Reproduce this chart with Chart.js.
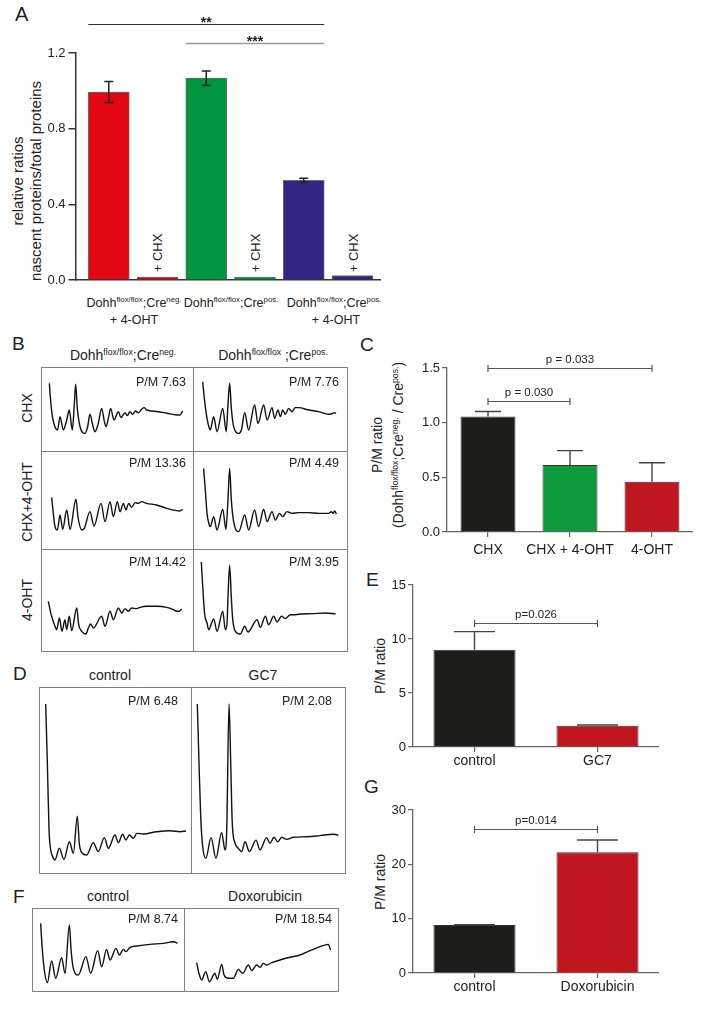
<!DOCTYPE html>
<html>
<head>
<meta charset="utf-8">
<script src="https://cdn.jsdelivr.net/npm/chart.js@4.4.1/dist/chart.umd.min.js"></script>
<style>
html,body{margin:0;padding:0;background:#fff;}
body{width:702px;height:1010px;position:relative;overflow:hidden;font-family:"Liberation Sans",Arial,Helvetica,sans-serif;}
.t{position:absolute;white-space:nowrap;color:#222;line-height:1;}
.c{transform:translate(-50%,-50%);}
.r{transform:translate(-100%,-50%);}
.rot{transform:translate(-50%,-50%) rotate(-90deg);text-align:center;}
.s{font-size:0.62em;vertical-align:0.6em;line-height:0;}
.L{position:absolute;font-size:19px;line-height:1;color:#222;}
canvas{position:absolute;}
.box{position:absolute;border:1px solid #808080;box-sizing:border-box;}
.vl{position:absolute;width:1px;background:#808080;}
.hl{position:absolute;height:1px;background:#808080;}
</style>
</head>
<body>
<script>
// ---------------- DATA ----------------
// Panel A
const categoriesA = ['Dohh flox/flox;Cre neg. + 4-OHT', '+ CHX', 'Dohh flox/flox;Cre pos.', '+ CHX', 'Dohh flox/flox;Cre pos. + 4-OHT', '+ CHX'];
const valuesA = [0.994, 0.017, 1.067, 0.017, 0.528, 0.025];
const errorsA = [0.056, 0, 0.038, 0, 0.011, 0];
const ticksA = [0, 0.4, 0.8, 1.2];
const sigA = [{a: 0, b: 4, y: 1.355, label: '**'}, {a: 2, b: 4, y: 1.254, label: '***'}];

// Panel C
const categoriesC = ['CHX', 'CHX + 4-OHT', '4-OHT'];
const valuesC = [1.056, 0.613, 0.459];
const errorsC = [0.046, 0.131, 0.175];
const ticksC = [0, 0.5, 1.0, 1.5];
const sigC = [{a: 0, b: 2, y: 1.5, label: 'p = 0.033'}, {a: 0, b: 1, y: 1.2, label: 'p = 0.030'}];

// Panel E
const categoriesE = ['control', 'GC7'];
const valuesE = [9.0, 1.97];
const errorsE = [1.68, 0.07];
const ticksE = [0, 5, 10, 15];
const sigE = [{a: 0, b: 1, y: 11.5, label: 'p=0.026'}];

// Panel G
const categoriesG = ['control', 'Doxorubicin'];
const valuesG = [8.82, 22.23];
const errorsG = [0.05, 2.26];
const ticksG = [0, 10, 20, 30];
const sigG = [{a: 0, b: 1, y: 26.5, label: 'p=0.014'}];

// Polysome profiles (x: gradient position %, y: absorbance %)
const profB1x = [5.5, 6.4, 7.7, 9.2, 10.9, 12.5, 14.7, 16.9, 18.6, 20.6, 21.9, 22.8, 23.9, 25.7, 28.9, 30.7, 32.2, 34.0, 35.5, 37.7, 39.9, 41.7, 42.8, 44.3, 45.8, 48.0, 50.9, 52.6, 55.3, 56.8, 58.6, 60.3, 62.1, 64.0, 66.2, 67.8, 69.5, 76.1, 82.7, 89.3, 91.4, 93.2];
const profB1y = [80.6, 58.7, 38.9, 28.9, 25.0, 40.9, 25.0, 36.9, 48.8, 25.0, 54.8, 79.4, 50.8, 28.9, 21.0, 28.9, 43.7, 31.0, 23.0, 33.0, 50.8, 34.9, 28.9, 38.9, 50.8, 36.9, 46.8, 39.7, 45.6, 42.1, 46.8, 43.7, 47.6, 45.6, 49.6, 51.6, 48.8, 47.0, 45.0, 42.9, 42.9, 47.6];

const profB2x = [6.3, 7.6, 9.1, 10.6, 11.2, 13.4, 15.6, 19.3, 21.6, 22.7, 23.8, 24.9, 26.4, 29.7, 31.4, 33.6, 36.1, 40.0, 42.2, 45.9, 48.1, 51.3, 53.0, 55.2, 56.7, 58.2, 60.0, 62.1, 64.3, 66.4, 68.6, 75.1, 81.6, 88.1, 90.3, 92.0, 92.9];
const profB2y = [82.5, 58.7, 38.9, 27.0, 25.0, 40.9, 23.0, 50.8, 23.0, 54.8, 80.6, 50.8, 29.0, 21.0, 25.0, 45.6, 25.0, 54.8, 32.9, 54.8, 36.9, 51.6, 38.9, 48.8, 40.9, 48.8, 43.7, 50.8, 46.8, 51.6, 51.6, 48.8, 46.8, 43.7, 44.4, 45.6, 44.8];

const profB3x = [7.0, 8.1, 9.2, 10.8, 12.5, 14.3, 16.9, 19.1, 23.0, 24.3, 26.8, 28.5, 32.2, 34.9, 39.5, 42.1, 45.4, 47.6, 50.2, 52.0, 54.2, 55.9, 57.7, 59.6, 61.9, 64.0, 66.2, 69.5, 76.1, 82.7, 89.3, 91.4, 93.2];
const profB3y = [52.7, 36.4, 22.8, 19.4, 34.7, 20.1, 39.8, 20.1, 50.7, 33.0, 19.4, 21.1, 38.1, 23.5, 46.6, 27.9, 48.3, 33.0, 48.3, 38.1, 46.6, 39.8, 46.6, 42.5, 47.3, 46.6, 48.3, 46.6, 44.9, 41.5, 39.1, 38.8, 40.5];

const profB4x = [6.9, 8.0, 9.1, 10.6, 11.2, 13.4, 15.6, 19.3, 21.4, 22.7, 23.8, 24.9, 26.4, 29.7, 33.6, 36.1, 40.0, 42.6, 45.9, 48.1, 51.3, 53.5, 56.1, 58.2, 61.0, 64.3, 68.6, 75.1, 81.6, 88.1, 89.8, 90.9, 92.0, 93.1];
const profB4y = [82.3, 60.2, 36.4, 24.5, 22.8, 33.0, 19.4, 40.5, 20.1, 50.0, 82.3, 50.0, 27.9, 17.7, 34.7, 19.4, 39.8, 22.8, 40.5, 27.9, 38.1, 29.6, 36.4, 33.0, 38.1, 36.4, 37.1, 37.1, 36.4, 36.4, 38.1, 36.4, 38.8, 35.7];

const profB5x = [4.8, 6.7, 9.2, 10.3, 12.1, 13.8, 15.8, 16.9, 18.6, 20.2, 23.5, 24.8, 26.8, 29.6, 31.1, 32.7, 34.4, 39.9, 42.1, 45.4, 47.6, 50.9, 53.1, 55.3, 57.5, 59.6, 63.0, 65.1, 69.5, 76.1, 82.7, 87.1, 89.3, 91.0, 92.5];
const profB5y = [48.7, 35.6, 24.2, 20.9, 32.4, 19.3, 30.7, 20.9, 34.0, 19.9, 42.2, 25.8, 19.3, 16.7, 22.5, 26.5, 22.5, 34.0, 24.2, 38.9, 30.7, 42.2, 37.3, 41.5, 38.9, 42.2, 41.5, 42.8, 43.8, 43.8, 42.8, 40.5, 38.9, 38.9, 41.2];

const profB6x = [5.4, 6.5, 7.6, 9.1, 10.2, 13.4, 15.6, 19.3, 21.0, 22.1, 22.7, 23.8, 24.9, 25.8, 27.5, 30.7, 33.6, 35.7, 41.6, 43.7, 47.0, 49.1, 52.4, 54.6, 57.5, 60.0, 63.2, 66.4, 70.8, 77.3, 86.1, 92.6];
const profB6y = [87.3, 58.5, 35.6, 27.5, 20.9, 31.4, 19.3, 38.9, 20.9, 27.5, 52.0, 84.0, 52.0, 30.7, 19.3, 16.7, 24.2, 18.6, 30.7, 23.2, 34.0, 25.8, 34.0, 28.4, 34.0, 31.7, 35.6, 35.6, 36.3, 36.6, 37.3, 36.3];

const profD1x = [4.4, 5.5, 6.6, 7.7, 9.0, 10.5, 13.4, 16.4, 20.0, 22.6, 25.2, 26.5, 28.1, 31.4, 35.7, 39.0, 43.0, 45.6, 50.0, 52.2, 55.0, 57.2, 59.4, 62.1, 64.3, 68.6, 77.4, 86.2, 92.8, 96.7];
const profD1y = [90.9, 59.0, 23.1, 12.4, 8.8, 7.0, 13.3, 7.3, 16.8, 10.6, 30.6, 16.0, 10.9, 9.7, 16.3, 11.5, 19.0, 13.3, 20.4, 16.3, 20.8, 17.7, 20.4, 18.6, 21.3, 21.0, 22.2, 22.7, 22.2, 22.6];

const profD2x = [4.1, 5.2, 6.3, 7.6, 9.7, 13.0, 16.2, 19.9, 22.1, 23.2, 24.7, 25.8, 26.8, 28.6, 30.7, 32.9, 35.1, 37.9, 42.2, 44.8, 49.1, 51.3, 53.9, 56.3, 58.9, 62.1, 66.5, 75.1, 83.8, 92.4, 95.7];
const profD2y = [90.9, 59.0, 30.3, 14.2, 7.9, 19.0, 7.9, 21.7, 12.4, 23.1, 90.9, 59.0, 26.7, 16.0, 13.3, 11.5, 16.8, 11.5, 17.7, 12.4, 19.0, 16.0, 19.2, 16.8, 19.2, 18.1, 19.2, 19.5, 20.1, 20.8, 20.4];

const profF1x = [5.7, 6.8, 8.1, 10.1, 12.9, 15.6, 19.5, 21.7, 24.6, 25.7, 27.2, 30.5, 35.5, 38.6, 43.2, 45.8, 49.1, 51.3, 55.3, 57.5, 60.1, 61.8, 64.5, 68.9, 77.6, 86.4, 93.0, 95.8];
const profF1y = [81.5, 49.4, 25.3, 10.0, 36.1, 15.3, 40.2, 21.3, 79.5, 49.4, 27.3, 19.3, 41.4, 21.3, 48.6, 29.3, 50.2, 37.3, 51.4, 43.4, 50.2, 47.4, 52.6, 54.2, 56.2, 57.4, 59.4, 57.4];

const profF2x = [8.2, 9.7, 11.5, 14.1, 16.5, 20.1, 21.6, 24.5, 26.0, 28.8, 32.0, 35.3, 38.1, 41.8, 43.9, 47.2, 49.4, 51.5, 53.7, 56.9, 62.3, 68.8, 75.3, 81.8, 88.3, 93.7, 95.2];
const profF2y = [34.1, 21.3, 13.3, 23.3, 11.2, 21.3, 14.1, 32.1, 19.3, 15.3, 15.3, 26.1, 21.3, 31.3, 24.5, 31.3, 28.5, 33.3, 31.3, 34.1, 37.3, 40.6, 43.4, 48.6, 53.4, 56.2, 49.4];
</script>

<!-- Panel letters -->
<div class="L" style="left:15px;top:4px;font-size:20px">A</div>
<div class="L" style="left:12px;top:334px">B</div>
<div class="L" style="left:360px;top:335px">C</div>
<div class="L" style="left:13px;top:664px">D</div>
<div class="L" style="left:366px;top:570px">E</div>
<div class="L" style="left:13px;top:887px">F</div>
<div class="L" style="left:364px;top:777px">G</div>

<!-- Panel A texts -->
<div class="t rot" style="left:27px;top:181px;font-size:15px;line-height:18px">relative ratios<br>nascent proteins/total proteins</div>
<div class="t c" style="left:134px;top:303px;font-size:12.5px">Dohh<span class="s">flox/flox</span>;Cre<span class="s">neg.</span></div>
<div class="t c" style="left:231px;top:303px;font-size:12.5px">Dohh<span class="s">flox/flox</span>;Cre<span class="s">pos.</span></div>
<div class="t c" style="left:334px;top:303px;font-size:12.5px">Dohh<span class="s">flox/flox</span>;Cre<span class="s">pos.</span></div>
<div class="t c" style="left:134px;top:320px;font-size:12.5px">+ 4-OHT</div>
<div class="t c" style="left:336px;top:320px;font-size:12.5px">+ 4-OHT</div>
<div class="t rot" style="left:157px;top:253px;font-size:13px">+ CHX</div>
<div class="t rot" style="left:255px;top:253px;font-size:13px">+ CHX</div>
<div class="t rot" style="left:353px;top:253px;font-size:13px">+ CHX</div>

<!-- Panel B texts & frame -->
<div class="t c" style="left:123px;top:355px;font-size:14px">Dohh<span class="s">flox/flox</span>;Cre<span class="s">neg.</span></div>
<div class="t c" style="left:273px;top:355px;font-size:14px">Dohh<span class="s">flox/flox</span> ;Cre<span class="s">pos.</span></div>
<div class="t rot" style="left:27px;top:408px;font-size:14px">CHX</div>
<div class="t rot" style="left:27px;top:502px;font-size:14px">CHX+4-OHT</div>
<div class="t rot" style="left:27px;top:600px;font-size:14px">4-OHT</div>
<div class="box" style="left:41px;top:367px;width:307px;height:285px"></div>
<div class="vl" style="left:193px;top:367px;height:285px"></div>
<div class="hl" style="left:41px;top:451px;width:307px"></div>
<div class="hl" style="left:41px;top:549px;width:307px"></div>
<canvas id="b1" width="152" height="84" style="left:41px;top:367px"></canvas>
<canvas id="b2" width="154" height="84" style="left:193px;top:367px"></canvas>
<canvas id="b3" width="152" height="98" style="left:41px;top:451px"></canvas>
<canvas id="b4" width="154" height="98" style="left:193px;top:451px"></canvas>
<canvas id="b5" width="152" height="102" style="left:41px;top:549px"></canvas>
<canvas id="b6" width="154" height="102" style="left:193px;top:549px"></canvas>
<div class="t r" style="left:186px;top:382px;font-size:12.5px">P/M 7.63</div>
<div class="t r" style="left:339px;top:382px;font-size:12.5px">P/M 7.76</div>
<div class="t r" style="left:186px;top:463px;font-size:12.5px">P/M 13.36</div>
<div class="t r" style="left:339px;top:463px;font-size:12.5px">P/M 4.49</div>
<div class="t r" style="left:186px;top:562px;font-size:12.5px">P/M 14.42</div>
<div class="t r" style="left:339px;top:562px;font-size:12.5px">P/M 3.95</div>

<!-- Panel D -->
<div class="t c" style="left:110px;top:675px;font-size:14px">control</div>
<div class="t c" style="left:263px;top:675px;font-size:14px">GC7</div>
<div class="box" style="left:39px;top:687px;width:307px;height:187px"></div>
<div class="vl" style="left:191px;top:687px;height:187px"></div>
<canvas id="d1" width="152" height="186" style="left:39px;top:687px"></canvas>
<canvas id="d2" width="154" height="186" style="left:191px;top:687px"></canvas>
<div class="t r" style="left:178px;top:701px;font-size:12.5px">P/M 6.48</div>
<div class="t r" style="left:332px;top:701px;font-size:12.5px">P/M 2.08</div>

<!-- Panel F -->
<div class="t c" style="left:108px;top:896px;font-size:14px">control</div>
<div class="t c" style="left:265px;top:896px;font-size:14px">Doxorubicin</div>
<div class="box" style="left:32px;top:908px;width:307px;height:84px"></div>
<div class="vl" style="left:184px;top:908px;height:84px"></div>
<canvas id="f1" width="152" height="83" style="left:32px;top:908px"></canvas>
<canvas id="f2" width="154" height="83" style="left:184px;top:908px"></canvas>
<div class="t r" style="left:178px;top:919px;font-size:12.5px">P/M 8.74</div>
<div class="t r" style="left:332px;top:919px;font-size:12.5px">P/M 18.54</div>

<!-- Panel C/E/G axis titles -->
<div class="t rot" style="left:377px;top:445px;font-size:14px">P/M ratio</div>
<div class="t rot" style="left:398px;top:445px;font-size:14px">(Dohh<span class="s">flox/flox</span>;Cre<span class="s">neg.</span> / Cre<span class="s">pos.</span>)</div>
<div class="t rot" style="left:380px;top:666px;font-size:14px">P/M ratio</div>
<div class="t rot" style="left:380px;top:882px;font-size:14px">P/M ratio</div>

<!-- Bar chart canvases -->
<canvas id="chartA" width="341" height="291" style="left:40px;top:0px"></canvas>
<canvas id="chartC" width="293" height="222" style="left:400px;top:340px"></canvas>
<canvas id="chartE" width="289" height="215" style="left:370px;top:560px"></canvas>
<canvas id="chartG" width="289" height="216" style="left:370px;top:785px"></canvas>

<script>
const SANS = '"Liberation Sans", Arial, Helvetica, sans-serif';
Chart.defaults.font.family = SANS;
Chart.defaults.color = '#222';

const extrasPlugin = {
  id: 'extras',
  afterDatasetsDraw(chart, args, o) {
    const ctx = chart.ctx;
    const meta = chart.getDatasetMeta(0);
    const ys = chart.scales.y;
    ctx.save();
    if (o.err) {
      ctx.strokeStyle = o.errColor;
      ctx.lineWidth = o.errWidth;
      o.err.forEach((e, i) => {
        if (!e) return;
        const v = o.vals[i];
        const x = meta.data[i].x;
        const top = ys.getPixelForValue(v + e);
        const bot = ys.getPixelForValue(o.both ? v - e : v);
        ctx.beginPath();
        ctx.moveTo(x, top); ctx.lineTo(x, bot);
        ctx.moveTo(x - o.capW / 2, top); ctx.lineTo(x + o.capW / 2, top);
        if (o.both) { ctx.moveTo(x - o.capW / 2, bot); ctx.lineTo(x + o.capW / 2, bot); }
        ctx.stroke();
      });
    }
    (o.brackets || []).forEach((b, k) => {
      const ea = meta.data[b.a], eb = meta.data[b.b];
      const x1 = o.edge ? ea.x - ea.width / 2 : ea.x;
      const x2 = o.edge ? eb.x + eb.width / 2 : eb.x;
      const y = Math.round(ys.getPixelForValue(b.y)) + 0.5;
      const st = (o.bracketStyles && o.bracketStyles[k]) || {color: '#555', width: 1.2};
      ctx.strokeStyle = st.color;
      ctx.lineWidth = st.width;
      ctx.beginPath();
      ctx.moveTo(x1, y); ctx.lineTo(x2, y);
      if (o.tickH) {
        ctx.moveTo(x1, y - o.tickH); ctx.lineTo(x1, y + o.tickH);
        ctx.moveTo(x2, y - o.tickH); ctx.lineTo(x2, y + o.tickH);
      }
      ctx.stroke();
      ctx.fillStyle = '#222';
      ctx.font = o.labelFont;
      ctx.textAlign = 'center';
      ctx.textBaseline = o.labelBaseline;
      ctx.fillText(b.label, (x1 + x2) / 2 + (o.labelDx || 0), y + o.labelDy);
    });
    ctx.restore();
  }
};

function profile(id, xs, ys) {
  new Chart(document.getElementById(id), {
    type: 'line',
    data: { datasets: [{
      data: xs.map((x, i) => ({x: x, y: ys[i]})),
      borderColor: '#111', borderWidth: 1.4, pointRadius: 0,
      cubicInterpolationMode: 'monotone', fill: false
    }]},
    options: {
      responsive: false, animation: false, events: [],
      layout: { padding: 0 },
      plugins: { legend: { display: false }, tooltip: { enabled: false } },
      scales: {
        x: { type: 'linear', display: false, min: 0, max: 100 },
        y: { type: 'linear', display: false, min: 0, max: 100 }
      }
    }
  });
}
profile('b1', profB1x, profB1y);
profile('b2', profB2x, profB2y);
profile('b3', profB3x, profB3y);
profile('b4', profB4x, profB4y);
profile('b5', profB5x, profB5y);
profile('b6', profB6x, profB6y);
profile('d1', profD1x, profD1y);
profile('d2', profD2x, profD2y);
profile('f1', profF1x, profF1y);
profile('f2', profF2x, profF2y);

// Panel A
new Chart(document.getElementById('chartA'), {
  type: 'bar',
  data: { datasets: [{
    data: valuesA.map((v, i) => ({x: i, y: v})),
    backgroundColor: ['#E30613', '#E30613', '#009640', '#009640', '#312783', '#312783'],
    borderColor: '#6a6a6a', borderWidth: 1, barThickness: 41
  }]},
  options: {
    responsive: false, animation: false, events: [],
    layout: { padding: { top: 53, bottom: 2, left: 0, right: 0 } },
    plugins: {
      legend: { display: false }, tooltip: { enabled: false },
      extras: {
        vals: valuesA, err: errorsA, both: true, capW: 9, errColor: '#222', errWidth: 1.5,
        brackets: sigA, edge: true, tickH: 0,
        bracketStyles: [{color: '#333', width: 1}, {color: '#9a9a9a', width: 1.6}],
        labelFont: 'bold 14px ' + SANS, labelBaseline: 'alphabetic', labelDy: 2
      }
    },
    scales: {
      x: { type: 'linear', offset: false, min: -0.683, max: 5.585, grid: { display: false },
           ticks: { display: false }, border: { color: '#333', width: 1.5 },
           afterFit: s => { s.height = 0; } },
      y: { min: 0, max: 1.2,
           afterBuildTicks: s => { s.ticks = ticksA.map(v => ({value: v})); },
           ticks: { font: { size: 13 }, color: '#222', padding: 3, callback: v => Number(v).toFixed(1) },
           grid: { drawOnChartArea: false, tickLength: 7, color: '#333', lineWidth: 1.5 },
           border: { color: '#333', width: 1.5 },
           afterFit: s => { s.width = 35.5; } }
    }
  },
  plugins: [extrasPlugin]
});

function smallBar(id, cats, vals, errs, ticks, ymax, colors, sig, capW, barPct, padTop, xH, yW, xPad) {
  new Chart(document.getElementById(id), {
    type: 'bar',
    data: { labels: cats, datasets: [{
      data: vals, backgroundColor: colors, borderColor: '#333', borderWidth: 1,
      categoryPercentage: 1, barPercentage: barPct
    }]},
    options: {
      responsive: false, animation: false, events: [],
      layout: { padding: { top: padTop, bottom: 0, left: 0, right: 0 } },
      plugins: {
        legend: { display: false }, tooltip: { enabled: false },
        extras: {
          vals: vals, err: errs, both: false, capW: capW, errColor: '#444', errWidth: 1.4,
          brackets: sig, edge: false, tickH: 3.5,
          labelFont: '11.5px ' + SANS, labelBaseline: 'middle', labelDy: -8.5
        }
      },
      scales: {
        x: { grid: { display: true, drawOnChartArea: false, offset: false, tickLength: 5, color: '#666', lineWidth: 1.2 },
             ticks: { font: { size: 14 }, color: '#222', padding: xPad, maxRotation: 0, autoSkip: false },
             border: { color: '#666', width: 1.3 },
             afterFit: s => { s.height = xH; } },
        y: { min: 0, max: ymax,
             afterBuildTicks: s => { s.ticks = ticks.map(v => ({value: v})); },
             ticks: { font: { size: 13 }, color: '#222', padding: 2,
                      callback: v => (ymax < 5 ? Number(v).toFixed(1) : String(v)) },
             grid: { drawOnChartArea: false, tickLength: 5, color: '#666', lineWidth: 1.2 },
             border: { color: '#666', width: 1.3 },
             afterFit: s => { s.width = yW; } }
      }
    },
    plugins: [extrasPlugin]
  });
}

smallBar('chartC', categoriesC, valuesC, errorsC, ticksC, 1.5,
  ['#1d1d1b', '#0f9a3e', '#c0161f'], sigC, 26, 0.67, 28, 30, 47, 5);
smallBar('chartE', categoriesE, valuesE, errorsE, ticksE, 15,
  ['#1d1d1b', '#c0161f'], sigE, 41, 0.667, 25, 28, 43, 1);
smallBar('chartG', categoriesG, valuesG, errorsG, ticksG, 30,
  ['#1d1d1b', '#c0161f'], sigG, 41, 0.667, 25, 28, 43, 1);
</script>
</body>
</html>
